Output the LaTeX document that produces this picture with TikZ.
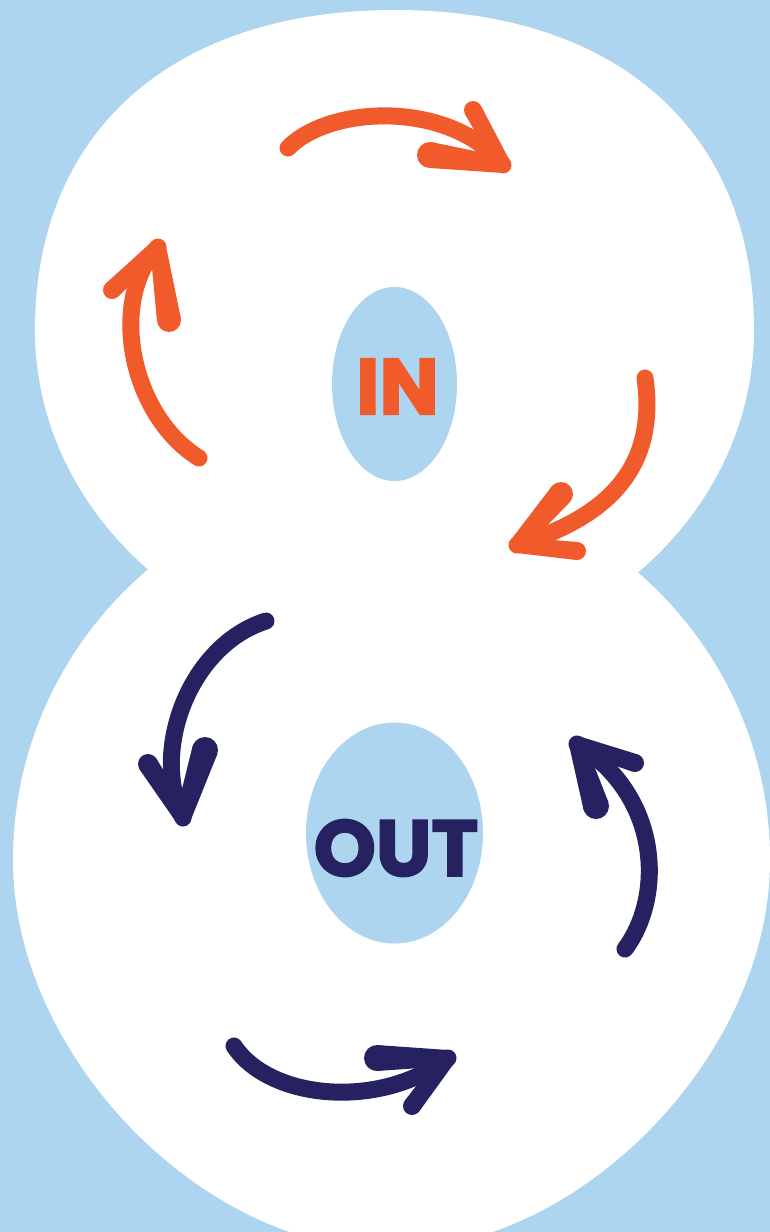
\documentclass[tikz,border=0pt]{standalone}
\usepackage{fontspec}
\newfontfamily\signfont{Poppins}[BoldFeatures={FakeBold=2.5}]
\usepackage{tikz}
\usetikzlibrary{calc, shapes.geometric}
\definecolor{skyback}{HTML}{ADD5F0}
\definecolor{emberink}{HTML}{F15A2B}
\definecolor{navyink}{HTML}{262262}
\tikzset{
  lobe/.style={fill=white, draw=none},
  hole/.style={ellipse, fill=skyback, draw=none, inner sep=0pt},
  word/.style={font=\signfont\bfseries\fontsize{79}{79}\selectfont, inner sep=0pt},
  brush/.style={line width=17pt, line cap=round, line join=round, draw=#1},
}
% tapered head stroke: colour, tip, free end, half width at free end
\newcommand{\barbstroke}[4]{%
  \fill[#1] ($(#2)!8pt!90:(#3)$) -- ($(#3)!#4!-90:(#2)$) -- ($(#3)!#4!90:(#2)$) -- ($(#2)!8pt!-90:(#3)$) -- cycle;
  \fill[#1] (#3) circle (#4);
  \fill[#1] (#2) circle (8pt);
}

\begin{document}
\begin{tikzpicture}[x=1pt, y=-1pt]
  \useasboundingbox (0,0) rectangle (770,1232);
  \clip (0,0) rectangle (770,1232);
  \fill[skyback] (0,0) rectangle (770,1232);
  % the eight: upper and lower lobe
  \fill[lobe] (395,10) .. controls (172,10) and (35,132) .. (35,330)
    .. controls (35,511) and (197,660) .. (395,660)
    .. controls (593,660) and (754,511) .. (754,330)
    .. controls (754,132) and (618,10) .. (395,10) -- cycle;
  \fill[lobe] (391,480) .. controls (183,480) and (13,651) .. (13,860)
    .. controls (13,1055) and (202,1250) .. (391,1250)
    .. controls (580,1250) and (770,1055) .. (770,860)
    .. controls (770,651) and (599,480) .. (391,480) -- cycle;
  \node[hole, minimum width=125pt, minimum height=194pt] (inhole) at (394.5,384) {};
  \node[hole, minimum width=177pt, minimum height=221pt] (outhole) at (394.5,833) {};
  \node[word, text=emberink] (inword) at ([xshift=3pt, yshift=-2.5pt]inhole.center) {IN};
  \node[word, text=navyink] (outword) at ([xshift=1.5pt, yshift=-15pt]outhole.center) {OUT};
  % upper loop
  \coordinate (i1s) at (288,148); \coordinate (i1t) at (503,165);
  \coordinate (i1a) at (473,110); \coordinate (i1b) at (430,155);
  \coordinate (i2s) at (199,458); \coordinate (i2t) at (158,247);
  \coordinate (i2a) at (112,290); \coordinate (i2b) at (169,320);
  \coordinate (i3s) at (645,378); \coordinate (i3t) at (517,545);
  \coordinate (i3a) at (561,494); \coordinate (i3b) at (577,551);
  \draw[brush=emberink] (i1s) .. controls (330,105) and (450,100) .. (i1t);
  \draw[brush=emberink] (i2s) .. controls (130,415) and (108,300) .. (i2t);
  \draw[brush=emberink] (i3s) .. controls (658,470) and (605,518) .. (i3t);
  \foreach \t/\e/\w in {i1t/i1a/9pt, i1t/i1b/13pt, i2t/i2a/9pt, i2t/i2b/12pt, i3t/i3a/12pt, i3t/i3b/9pt}
    \barbstroke{emberink}{\t}{\e}{\w};
  % lower loop
  \coordinate (o1s) at (266,621); \coordinate (o1t) at (183,818);
  \coordinate (o1a) at (148,764); \coordinate (o1b) at (205,750);
  \coordinate (o2s) at (625,949); \coordinate (o2t) at (577,744);
  \coordinate (o2a) at (635,763); \coordinate (o2b) at (596,806);
  \coordinate (o3s) at (234,1046); \coordinate (o3t) at (448,1058);
  \coordinate (o3a) at (377,1058); \coordinate (o3b) at (412,1106);
  \draw[brush=navyink] (o1s) .. controls (190,645) and (150,750) .. (o1t);
  \draw[brush=navyink] (o2s) .. controls (665,895) and (660,795) .. (o2t);
  \draw[brush=navyink] (o3s) .. controls (270,1100) and (380,1110) .. (o3t);
  \foreach \t/\e/\w in {o1t/o1a/10pt, o1t/o1b/13pt, o2t/o2a/9pt, o2t/o2b/13pt, o3t/o3a/13pt, o3t/o3b/9pt}
    \barbstroke{navyink}{\t}{\e}{\w};
\end{tikzpicture}
\end{document}
